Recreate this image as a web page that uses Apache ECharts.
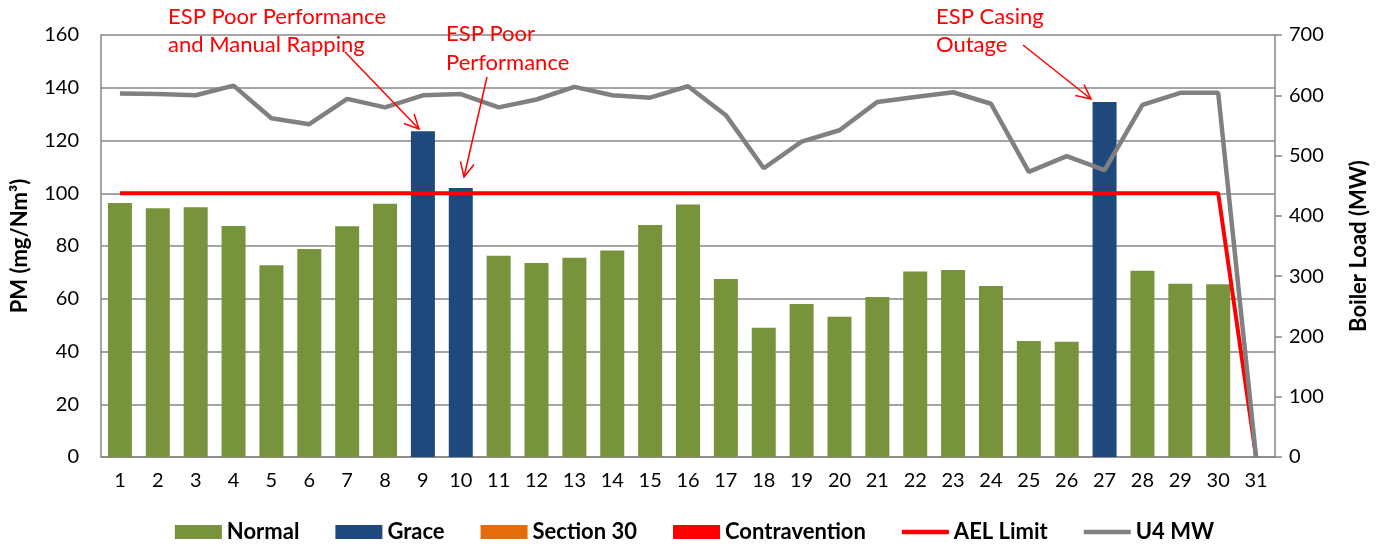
<!DOCTYPE html>
<html>
<head>
<meta charset="utf-8">
<script src="https://cdn.jsdelivr.net/npm/echarts@6/dist/echarts.min.js"></script>
<style>html,body{margin:0;padding:0;background:#fff}#c{width:1389px;height:550px}</style>
</head>
<body>
<div id="c"></div>
<script>
var days = ['1','2','3','4','5','6','7','8','9','10','11','12','13','14','15','16','17','18','19','20','21','22','23','24','25','26','27','28','29','30','31'];
var normal = [96.3,94.3,94.7,87.6,72.7,78.9,87.5,96,null,null,76.3,73.6,75.5,78.3,88,95.7,67.5,49,58,53.2,60.7,70.3,70.9,64.8,44,43.7,null,70.6,65.7,65.5,null];
var grace = [null,null,null,null,null,null,null,null,123.5,102,null,null,null,null,null,null,null,null,null,null,null,null,null,null,null,null,134.6,null,null,null,null];
var section30 = [];
var contravention = [];
var aelLimit = [100,100,100,100,100,100,100,100,100,100,100,100,100,100,100,100,100,100,100,100,100,100,100,100,100,100,100,100,100,100,0];
var u4mw = [603,602,600,616,562,552,594,580,600,602,580,593,614,600,596,615,567,479,523,542,589,597,605,586,473,499,476,584,604,604,0];
var leftTicks = {min:0, max:160, interval:20};
var rightTicks = {min:0, max:700, interval:100};

var FONT = 'Lato';
var RED = '#FF0000';
var LINE_ICON = 'path://M0,0L47,0L47,4.5L0,4.5Z';

function arrow(x1,y1,x2,y2){
  var dx=x2-x1, dy=y2-y1, l=Math.sqrt(dx*dx+dy*dy); dx/=l; dy/=l;
  var L=16, a=0.45;
  function w(s){var c=Math.cos(s*a), sn=Math.sin(s*a); var rx=dx*c-dy*sn, ry=dx*sn+dy*c; return [x2-L*rx, y2-L*ry];}
  return [
    {type:'line', shape:{x1:x1,y1:y1,x2:x2,y2:y2}, style:{stroke:RED,lineWidth:1.5}, z:100},
    {type:'polyline', shape:{points:[w(1),[x2,y2],w(-1)]}, style:{stroke:RED,lineWidth:1.5,fill:null}, z:100}
  ];
}
function txt(x,y,s){
  return {type:'text', x:x, y:y, style:{text:s, fill:RED, font:'22px '+FONT, textVerticalAlign:'middle'}, z:100};
}
var graphics = [].concat(
  [txt(168,17,'ESP Poor Performance'), txt(168,45,'and Manual Rapping'),
   txt(446,34,'ESP Poor'), txt(446,63,'Performance'),
   txt(936,17,'ESP Casing'), txt(936,45,'Outage')],
  arrow(345,52,419,129),
  arrow(487,77,464,177),
  arrow(1023,45,1091,99)
);

var chart = echarts.init(document.getElementById('c'));
chart.setOption({
  animation:false,
  textStyle:{fontFamily:FONT},
  grid:{left:101, right:114, top:35, bottom:93},
  legend:{
    bottom:2, left:'center', itemWidth:47, itemHeight:14, itemGap:36,
    textStyle:{fontFamily:FONT, fontSize:22, fontWeight:'bold', color:'#000'},
    data:[{name:'Normal',icon:'rect'},{name:'Grace',icon:'rect'},{name:'Section 30',icon:'rect'},{name:'Contravention',icon:'rect'},
          {name:'AEL Limit',icon:LINE_ICON},{name:'U4 MW',icon:LINE_ICON}]
  },
  xAxis:{
    type:'category', data:days,
    axisLine:{lineStyle:{color:'#868686',width:1.5}},
    axisTick:{show:false},
    axisLabel:{color:'#000', fontSize:20, fontFamily:FONT, margin:14}
  },
  yAxis:[
    {type:'value', min:leftTicks.min, max:leftTicks.max, interval:leftTicks.interval,
     name:'PM (mg/Nm³)', nameLocation:'middle', nameGap:70, nameRotate:90,
     nameTextStyle:{color:'#000', fontSize:22, fontWeight:'bold', fontFamily:FONT},
     axisLine:{show:true, lineStyle:{color:'#868686',width:1.5}},
     axisTick:{show:false},
     axisLabel:{color:'#000', fontSize:20, fontFamily:FONT, margin:22},
     splitLine:{lineStyle:{color:'#868686',width:1.5}}},
    {type:'value', min:rightTicks.min, max:rightTicks.max, interval:rightTicks.interval, position:'right',
     name:'Boiler Load (MW)', nameLocation:'middle', nameGap:73, nameRotate:90,
     nameTextStyle:{color:'#000', fontSize:22, fontWeight:'bold', fontFamily:FONT},
     axisLine:{show:true, lineStyle:{color:'#868686',width:1.5}},
     axisTick:{show:true, length:7, lineStyle:{color:'#868686',width:1.5}},
     axisLabel:{color:'#000', fontSize:20, fontFamily:FONT, margin:14},
     splitLine:{show:false}}
  ],
  series:[
    {name:'Normal', type:'bar', stack:'pm', barWidth:24, data:normal, itemStyle:{color:'#77933C'}},
    {name:'Grace', type:'bar', stack:'pm', barWidth:24, data:grace, itemStyle:{color:'#1F497D'}},
    {name:'Section 30', type:'bar', stack:'pm', barWidth:24, data:section30, itemStyle:{color:'#E46C0A'}},
    {name:'Contravention', type:'bar', stack:'pm', barWidth:24, data:contravention, itemStyle:{color:'#FF0000'}},
    {name:'AEL Limit', type:'line', data:aelLimit, symbol:'none', lineStyle:{color:RED,width:4}, itemStyle:{color:RED}, z:5},
    {name:'U4 MW', type:'line', yAxisIndex:1, data:u4mw, symbol:'none', lineStyle:{color:'#808080',width:4.5}, itemStyle:{color:'#808080'}, z:6}
  ],
  graphic:graphics
});
</script>
</body>
</html>
